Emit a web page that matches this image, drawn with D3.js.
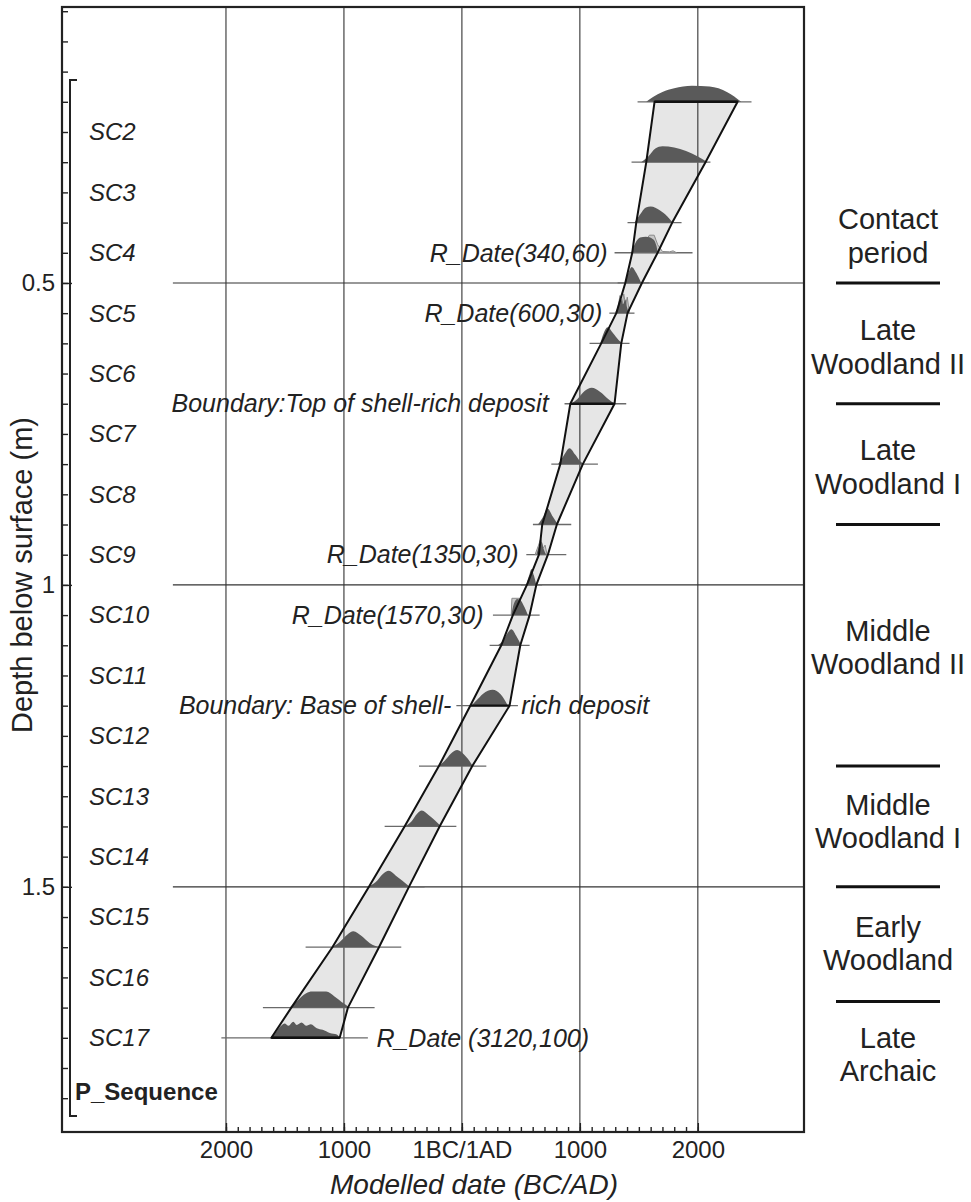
<!DOCTYPE html>
<html><head><meta charset="utf-8">
<script src="https://cdn.jsdelivr.net/npm/d3@7"></script>
<style>
body{margin:0;background:#fff}
text{font-family:"Liberation Sans",Arial,Helvetica,sans-serif;fill:#222}
</style>
</head><body>
<svg id="chart" width="971" height="1202"></svg>
<script>
// ---------------- data ----------------
const sampleLabels = ["SC2","SC3","SC4","SC5","SC6","SC7","SC8","SC9","SC10","SC11","SC12","SC13","SC14","SC15","SC16","SC17"];
const sampleLabelDepths = [0.25,0.35,0.45,0.55,0.65,0.75,0.85,0.95,1.05,1.15,1.25,1.35,1.45,1.55,1.65,1.75];

const xTickValues = [-2000,-1000,0,1000,2000];
const xTickLabels = ["2000","1000","1BC/1AD","1000","2000"];
const yTickValues = [0.5,1,1.5];
const yTickLabels = ["0.5","1","1.5"];

// depth (m) of every modelled distribution
const levelDepths = [0.2,0.3,0.4,0.45,0.5,0.55,0.6,0.7,0.8,0.9,0.95,1.0,1.05,1.1,1.2,1.3,1.4,1.5,1.6,1.7,1.75];
// envelope (95% range) edges, years BC(-)/AD(+)
const envelopeFrom = [1633,1563,1478,1444,1385,1309,1181,919,834,681,653,551,432,334,71,-195,-486,-788,-1098,-1446,-1615];
const envelopeTo   = [2337,2065,1783,1659,1526,1404,1351,1294,1025,805,729,631,574,495,404,88,-189,-449,-703,-966,-1036];
// thin range lines
const rangeFrom = [1489,1438,1404,1294,1320,1250,1082,870,758,602,546,500,263,235,-47,-364,-655,-952,-1325,-1687,-2039];
const rangeTo   = [2455,2107,1862,1955,1591,1463,1421,1393,1153,927,885,680,659,574,475,207,-47,-316,-514,-740,-797];
// modelled distributions: [year, relative density]
const profiles = [
  [[1563,0],[1620,0.3],[1700,0.62],[1800,0.85],[1950,1],[2100,0.95],[2250,0.6],[2368,0]],
  [[1520,0],[1580,0.35],[1640,0.85],[1700,1],[1800,0.92],[1900,0.7],[2000,0.35],[2082,0]],
  [[1464,0],[1510,0.5],[1560,0.95],[1600,1],[1680,0.75],[1740,0.4],[1786,0]],
  [[1436,0],[1470,0.6],[1510,0.95],[1560,1],[1620,0.85],[1650,0.4],[1659,0]],
  [[1379,0],[1410,0.6],[1440,1],[1480,0.6],[1520,0]],
  [[1309,0],[1330,0.45],[1350,0.9],[1365,0.55],[1385,0.85],[1400,0.35],[1421,0]],
  [[1173,0],[1200,0.6],[1235,1],[1280,0.65],[1330,0.2],[1362,0]],
  [[927,0],[980,0.3],[1040,0.8],[1100,1],[1170,0.75],[1240,0.3],[1294,0]],
  [[814,0],[860,0.5],[913,1],[960,0.6],[1000,0.2],[1040,0]],
  [[644,0],[690,0.5],[725,1],[770,0.5],[814,0]],
  [[631,0],[655,0.55],[675,0.8],[693,0.35],[715,0]],
  [[546,0],[570,0.6],[590,1],[610,0.6],[631,0]],
  [[419,0],[440,0.7],[470,1],[500,0.9],[530,0.5],[559,0]],
  [[305,0],[350,0.3],[390,0.8],[420,1],[460,0.6],[503,0]],
  [[80,0],[120,0.3],[180,0.75],[260,1],[330,0.7],[390,0]],
  [[-203,0],[-150,0.3],[-90,0.8],[-40,1],[20,0.7],[93,0]],
  [[-486,0],[-430,0.3],[-380,0.8],[-340,1],[-280,0.7],[-175,0]],
  [[-797,0],[-730,0.3],[-670,0.8],[-620,1],[-560,0.7],[-443,0]],
  [[-1107,0],[-1040,0.3],[-970,0.8],[-920,1],[-850,0.7],[-780,0.25],[-697,0]],
  [[-1460,0],[-1400,0.4],[-1320,0.9],[-1270,1],[-1150,1],[-1080,0.7],[-1000,0.25],[-952,0]],
  [[-1615,0],[-1580,0.3],[-1540,0.7],[-1500,0.9],[-1470,0.75],[-1430,1],[-1400,0.8],[-1360,0.95],[-1320,0.75],[-1280,0.85],[-1230,0.6],[-1180,0.5],[-1120,0.3],[-1060,0.2],[-1036,0]]
];
// unmodelled likelihood outlines of the R_Dates (level index, points)
const likelihoodLevels = [3,5,10,12];
const likelihoodProfiles = [
  [[1440,0],[1500,0.5],[1560,0.8],[1590,1.1],[1630,1.1],[1660,0.5],[1700,0.08],[1760,0.06],[1790,0.12],[1820,0]],
  [[1300,0],[1322,0.3],[1340,1.1],[1355,0.4],[1372,1.2],[1388,0.5],[1402,1.0],[1420,0]],
  [[620,0],[650,0.6],[668,1.0],[688,0.4],[705,0.6],[722,0]],
  [[418,0],[424,1.05],[492,1.05],[498,0]]
];
const boundaryDepths = [0.2,0.7,1.2,1.75];

const annotationTexts = ["R_Date(340,60)","R_Date(600,30)","Boundary:Top of shell-rich deposit","R_Date(1350,30)","R_Date(1570,30)","Boundary: Base of shell-","rich deposit","R_Date (3120,100)"];
const annotationDepths = [0.45,0.55,0.7,0.95,1.05,1.2,1.2,1.75];
const annotationYears = [1235,1190,735,480,183,-90,503,-725];
const annotationAnchors = ["end","end","end","end","end","end","start","start"];

const periodNames = [["Contact","period"],["Late","Woodland II"],["Late","Woodland I"],["Middle","Woodland II"],["Middle","Woodland I"],["Early","Woodland"],["Late","Archaic"]];
const periodDepths = [0.422,0.606,0.805,1.104,1.392,1.594,1.778];
const periodSeparators = [0.5,0.7,0.9,1.3,1.5,1.69];

// ---------------- chart ----------------
const svg = d3.select("#chart");
const x = d3.scaleLinear().domain([-3390, 2900]).range([62, 804]);
const y = d3.scaleLinear().domain([0.043, 1.906]).range([7, 1132]);
const h = d3.scaleLinear().domain([0, 1]).range([0, 16]);

const levels = levelDepths.map((d,i)=>({depth:d, from:envelopeFrom[i], to:envelopeTo[i], rf:rangeFrom[i], rt:rangeTo[i], prof:profiles[i]}));

// envelope fill
const envPts = levels.map(l=>[x(l.from), y(l.depth)]).concat(levels.slice().reverse().map(l=>[x(l.to), y(l.depth)]));
svg.append("path").attr("d", d3.line()(envPts) + "Z").attr("fill","#e6e6e6").attr("stroke","none");

// grid
svg.append("g").selectAll("line").data(xTickValues).join("line")
  .attr("x1",d=>x(d)).attr("x2",d=>x(d)).attr("y1",y.range()[0]).attr("y2",y.range()[1])
  .attr("stroke","#333").attr("stroke-width",1.1);
svg.append("g").selectAll("line").data(yTickValues).join("line")
  .attr("x1",x(-2450)).attr("x2",x.range()[1]).attr("y1",d=>y(d)).attr("y2",d=>y(d))
  .attr("stroke","#333").attr("stroke-width",1.1);

// thin range lines
svg.append("g").selectAll("line").data(levels).join("line")
  .attr("x1",d=>x(d.rf)).attr("x2",d=>x(d.rt)).attr("y1",d=>y(d.depth)).attr("y2",d=>y(d.depth))
  .attr("stroke","#6a6a6a").attr("stroke-width",1.3);

// likelihood outlines
likelihoodLevels.forEach((li,k)=>{
  const base = y(levelDepths[li]);
  svg.append("path").datum(likelihoodProfiles[k])
    .attr("d", d3.area().x(d=>x(d[0])).y0(base).y1(d=>base-h(d[1])).curve(d3.curveLinear))
    .attr("fill","#c8c8c8").attr("stroke","#8a8a8a").attr("stroke-width",1);
});

// modelled distributions
svg.append("g").selectAll("path").data(levels).join("path")
  .attr("d", l => { const base=y(l.depth); return d3.area().x(d=>x(d[0])).y0(base).y1(d=>base-h(d[1])).curve(d3.curveMonotoneX)(l.prof); })
  .attr("fill","#5a5a5a");

// envelope outline
svg.append("path").attr("d", d3.line()(envPts) + "Z").attr("fill","none").attr("stroke","#111").attr("stroke-width",2).attr("stroke-linejoin","round");
// boundary bold lines
svg.append("g").selectAll("line").data(boundaryDepths).join("line")
  .attr("x1",d=>x(envelopeFrom[levelDepths.indexOf(d)])).attr("x2",d=>x(envelopeTo[levelDepths.indexOf(d)]))
  .attr("y1",d=>y(d)).attr("y2",d=>y(d)).attr("stroke","#111").attr("stroke-width",2.4);

// frame
svg.append("rect").attr("x",x.range()[0]).attr("y",y.range()[0])
  .attr("width",x.range()[1]-x.range()[0]).attr("height",y.range()[1]-y.range()[0])
  .attr("fill","none").attr("stroke","#222").attr("stroke-width",2.2);

// axes
const xAxis = svg.append("g").attr("transform",`translate(0,${y.range()[1]})`)
  .call(d3.axisBottom(x).tickValues(xTickValues).tickSizeInner(-9).tickSizeOuter(0).tickPadding(9)
        .tickFormat((d,i)=>xTickLabels[i]));
const xMinor = svg.append("g").attr("transform",`translate(0,${y.range()[1]})`)
  .call(d3.axisBottom(x).tickValues(d3.range(-2000,2001,100)).tickSizeInner(-5).tickSizeOuter(0).tickFormat(""));
const yAxis = svg.append("g").attr("transform",`translate(${x.range()[0]},0)`)
  .call(d3.axisLeft(y).tickValues(yTickValues).tickSizeInner(-10).tickSizeOuter(0).tickPadding(7)
        .tickFormat((d,i)=>yTickLabels[i]));
const yMinor = svg.append("g").attr("transform",`translate(${x.range()[0]},0)`)
  .call(d3.axisLeft(y).tickValues(d3.range(1,38).map(k=>k*0.05)).tickSizeInner(-6).tickSizeOuter(0).tickFormat(""));
[xAxis,xMinor,yAxis,yMinor].forEach(g=>{
  g.select(".domain").remove();
  g.selectAll(".tick line").attr("stroke","#222").attr("stroke-width",1.4);
  g.selectAll("text").style("font-size","24px").attr("fill","#222");
});

// axis titles
svg.append("text").attr("x",474).attr("y",1194).attr("text-anchor","middle")
  .style("font-size","28px").style("font-style","italic").text("Modelled date (BC/AD)");
svg.append("text").attr("transform",`translate(32,575) rotate(-90)`)
  .attr("text-anchor","middle").style("font-size","29px").text("Depth below surface (m)");

// sequence bracket
svg.append("path").attr("d",`M77,80H70V1116H77`).attr("fill","none").attr("stroke","#222").attr("stroke-width",2);
svg.append("g").selectAll("text").data(sampleLabels).join("text")
  .attr("x",89).attr("y",(d,i)=>y(sampleLabelDepths[i])).attr("dy","0.35em")
  .style("font-size","24px").style("font-style","italic").text(d=>d);
svg.append("text").attr("x",75).attr("y",1100).style("font-size","24px").style("font-weight","bold").text("P_Sequence");

// annotations
svg.append("g").selectAll("text").data(annotationTexts).join("text")
  .attr("x",(d,i)=>x(annotationYears[i])).attr("y",(d,i)=>y(annotationDepths[i])).attr("dy","0.35em")
  .attr("text-anchor",(d,i)=>annotationAnchors[i])
  .style("font-size","25px").style("font-style","italic").text(d=>d);

// periods
svg.append("g").selectAll("line").data(periodSeparators).join("line")
  .attr("x1",836).attr("x2",940).attr("y1",d=>y(d)).attr("y2",d=>y(d))
  .attr("stroke","#111").attr("stroke-width",3);
const pg = svg.append("g").selectAll("text").data(periodNames).join("text")
  .attr("x",888).attr("y",(d,i)=>y(periodDepths[i])).attr("text-anchor","middle").style("font-size","29px");
pg.selectAll("tspan").data(d=>d).join("tspan").attr("x",888)
  .attr("dy",(d,j)=>j===0?"-0.23em":"1.15em").text(d=>d);
</script>
</body></html>
